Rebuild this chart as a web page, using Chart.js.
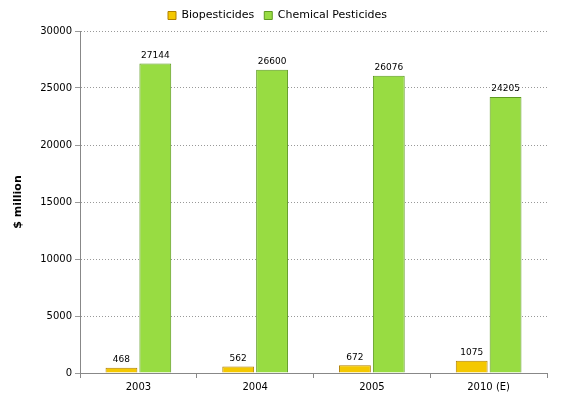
<!DOCTYPE html>
<html>
<head>
<script src="https://cdn.jsdelivr.net/npm/chart.js@4"></script>
<style>body{margin:0;background:#fff}#wrap{width:565px;height:418px}</style>
</head>
<body>
<div id="wrap"><canvas id="c"></canvas></div>
<script>
const categories = ['2003', '2004', '2005', '2010 (E)'];
const bio = [468, 562, 672, 1075];
const chem = [27144, 26600, 26076, 24205];

const labelPlugin = {
    id: 'labels',
    afterDatasetsDraw(chart) {
        const ctx = chart.ctx;
        ctx.save();
        ctx.font = '9px "DejaVu Sans", sans-serif';
        ctx.fillStyle = '#000';
        ctx.textAlign = 'center';
        chart.data.datasets.forEach((ds, i) => {
            chart.getDatasetMeta(i).data.forEach((bar, j) => {
                ctx.fillText(ds.data[j], bar.x, bar.y - 8);
            });
        });
        ctx.restore();
    }
};

const font = { size: 10, family: 'Verdana, "DejaVu Sans", sans-serif' };

new Chart(document.getElementById('c'), {
    type: 'bar',
    data: {
        labels: categories,
        datasets: [{
            label: 'Biopesticides',
            data: bio,
            backgroundColor: '#f4c800',
            borderColor: '#b08000',
            borderWidth: 1,
            barPercentage: 0.94,
            categoryPercentage: 0.58
        }, {
            label: 'Chemical Pesticides',
            data: chem,
            backgroundColor: '#98dc42',
            borderColor: '#5e9a20',
            borderWidth: 1,
            barPercentage: 0.94,
            categoryPercentage: 0.58
        }]
    },
    options: {
        responsive: true,
        maintainAspectRatio: false,
        animation: false,
        layout: { padding: { left: 8, right: 18, top: 0, bottom: 22 } },
        plugins: {
            legend: {
                labels: { boxWidth: 8, boxHeight: 8, color: '#000', padding: 10, font: { size: 11, family: font.family } }
            },
            tooltip: { enabled: false }
        },
        scales: {
            x: {
                grid: { display: true, drawOnChartArea: false, color: '#888', tickLength: 5 },
                border: { color: '#888' },
                ticks: { color: '#000', font: font }
            },
            y: {
                min: 0, max: 30000,
                afterFit(s) { s.width = 72; },
                ticks: { stepSize: 5000, color: '#000', font: font, callback: v => String(v) },
                grid: { color: '#999', tickLength: 5 },
                border: { color: '#888', dash: [1, 2] },
                title: { display: true, text: '$ million', color: '#000', font: { size: 11, weight: 'bold', family: font.family } }
            }
        }
    },
    plugins: [labelPlugin, {
        id: 'top',
        beforeInit(chart) {
            chart.legend && (chart.legend.afterFit = function () { this.height += 10; });
        }
    }]
});
</script>
</body>
</html>
